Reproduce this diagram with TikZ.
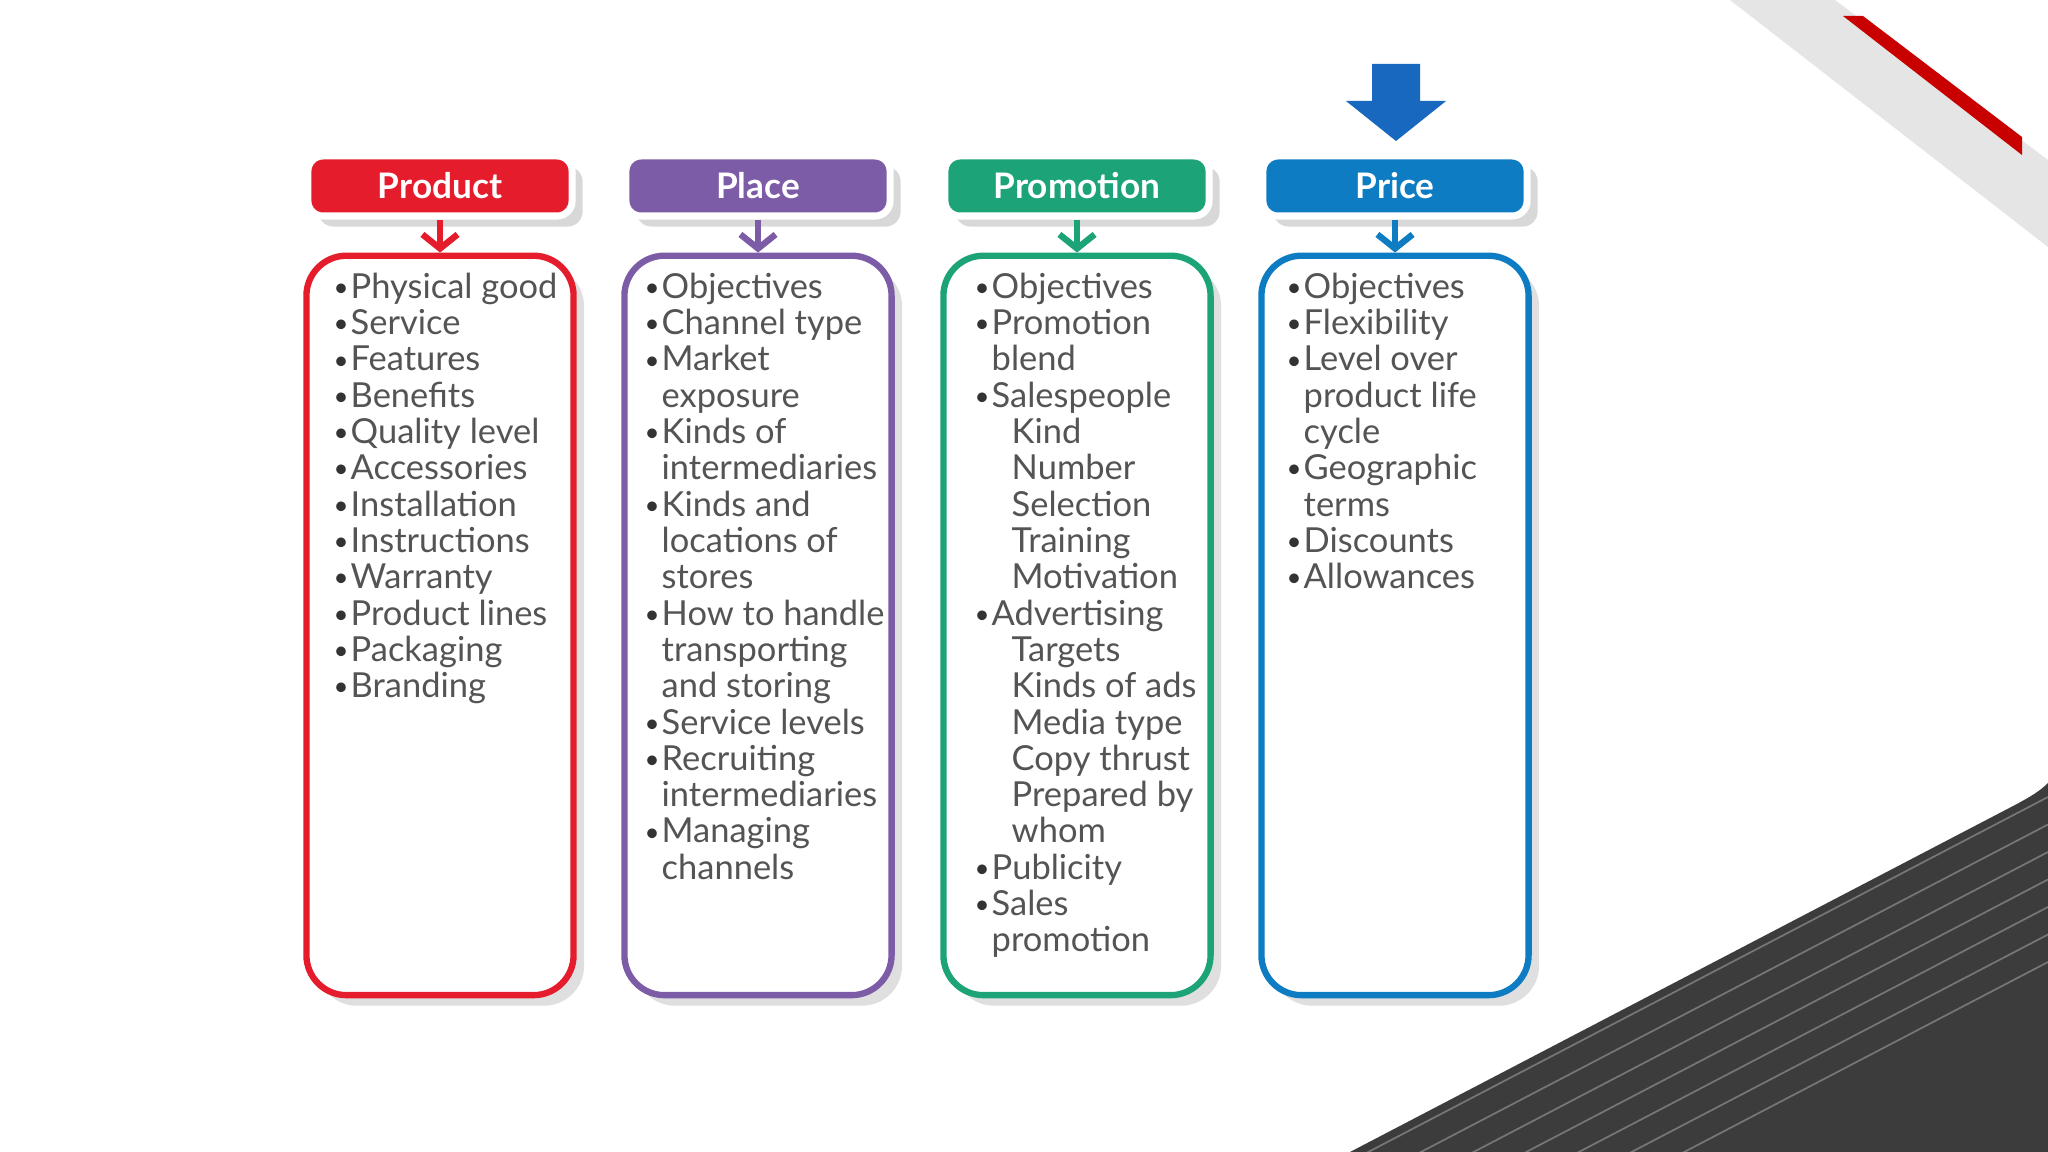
\documentclass[tikz,border=0pt]{standalone}
\usepackage{fontspec}
\setmainfont{Lato}
\usepackage{xcolor}
\usetikzlibrary{positioning,shadows,arrows.meta}
\definecolor{prodred}{RGB}{228,28,44}
\definecolor{placepurple}{RGB}{124,92,166}
\definecolor{promogreen}{RGB}{28,164,120}
\definecolor{priceblue}{RGB}{14,124,194}
\definecolor{bigblue}{RGB}{24,104,192}
\definecolor{textgray}{RGB}{84,84,84}
\definecolor{bandgray}{RGB}{229,229,229}
\definecolor{stripered}{RGB}{200,0,0}
\definecolor{darkslab}{RGB}{60,60,60}
\definecolor{slabline}{RGB}{118,118,118}
\newcommand{\itm}{\makebox[0.17cm][l]{\raisebox{0.05em}{\scalebox{0.75}{\textcolor{black!80}{\textbullet}}}}}
\newcommand{\cnt}{\hspace*{0.17cm}}
\newcommand{\subln}{\hspace*{0.37cm}}

\begin{document}
\begin{tikzpicture}[x=0.01cm, y=-0.01cm,
	head/.style = {rounded corners=0.15cm, minimum width=2.64cm, minimum height=0.6cm, draw=white, line width=2pt, text=white, font=\bfseries\fontsize{10}{12}\selectfont, drop shadow={shadow xshift=3pt, shadow yshift=-3pt, opacity=0.3}},
	body/.style = {rounded corners=0.4cm, minimum width=2.67cm, minimum height=7.39cm, line width=1.8pt, fill=white, drop shadow={shadow xshift=3pt, shadow yshift=-3pt, opacity=0.25}},
	list/.style = {anchor=north west, inner sep=0pt, align=left, text=textgray, font=\fontsize{9.8}{10.33}\selectfont},
	link/.style = {line width=1.8pt, -{Straight Barb[length=4pt,width=10pt]}}]
	\useasboundingbox (0,0) rectangle (2048,1152);
	\fill[white] (0,0) rectangle (2048,1152);
	% corner decorations
	\fill[bandgray] (1730,0) -- (1835,0) -- (2048,160) -- (2048,247) -- cycle;
	\fill[stripered] (1843,16) -- (1863,16) -- (2022,137) -- (2022,155) -- cycle;
	\fill[darkslab] (1350,1152) -- (2015,805) .. controls (2030,797) and (2040,791) .. (2048,783) -- (2048,1152) -- cycle;
	\begin{scope}
		\clip (1350,1152) -- (2015,805) .. controls (2030,797) and (2040,791) .. (2048,783) -- (2048,1152) -- cycle;
		\foreach \k in {0,...,6}
			\draw[slabline, line width=0.5pt] (2048,797+27.5*\k) -- ++(-720,376);
	\end{scope}
	% big arrow
	\fill[bigblue] (1372,64) -- (1420,64) -- (1420,101) -- (1446,101) -- (1396,141) -- (1346,101) -- (1372,101) -- cycle;
	% headers
	\node[head, fill=prodred] (prodhead) at (440,186) {Product};
	\node[head, fill=placepurple] (placehead) at (758,186) {Place};
	\node[head, fill=promogreen] (promohead) at (1077,186) {Promotion};
	\node[head, fill=priceblue] (pricehead) at (1395,186) {Price};
	% boxes
	\node[body, draw=prodred, below=0.33cm of prodhead] (prodbody) {};
	\node[body, draw=placepurple, below=0.33cm of placehead] (placebody) {};
	\node[body, draw=promogreen, below=0.33cm of promohead] (promobody) {};
	\node[body, draw=priceblue, below=0.33cm of pricehead] (pricebody) {};
	\draw[link, prodred] (prodhead.south) -- (prodbody.north);
	\draw[link, placepurple] (placehead.south) -- (placebody.north);
	\draw[link, promogreen] (promohead.south) -- (promobody.north);
	\draw[link, priceblue] (pricehead.south) -- (pricebody.north);
	% lists
	\node[list] (prodlist) at (333,272) {\itm Physical good\\ \itm Service\\ \itm Features\\ \itm Benefits\\ \itm Quality level\\ \itm Accessories\\ \itm Installation\\ \itm Instructions\\ \itm Warranty\\ \itm Product lines\\ \itm Packaging\\ \itm Branding};
	\node[list] (placelist) at (644,272) {\itm Objectives\\ \itm Channel type\\ \itm Market\\ \cnt exposure\\ \itm Kinds of\\ \cnt intermediaries\\ \itm Kinds and\\ \cnt locations of\\ \cnt stores\\ \itm How to handle\\ \cnt transporting\\ \cnt and storing\\ \itm Service levels\\ \itm Recruiting\\ \cnt intermediaries\\ \itm Managing\\ \cnt channels};
	\node[list] (promolist) at (974,272) {\itm Objectives\\ \itm Promotion\\ \cnt blend\\ \itm Salespeople\\ \subln Kind\\ \subln Number\\ \subln Selection\\ \subln Training\\ \subln Motivation\\ \itm Advertising\\ \subln Targets\\ \subln Kinds of ads\\ \subln Media type\\ \subln Copy thrust\\ \subln Prepared by\\ \subln whom\\ \itm Publicity\\ \itm Sales\\ \cnt promotion};
	\node[list] (pricelist) at (1286,272) {\itm Objectives\\ \itm Flexibility\\ \itm Level over\\ \cnt product life\\ \cnt cycle\\ \itm Geographic\\ \cnt terms\\ \itm Discounts\\ \itm Allowances};
\end{tikzpicture}
\end{document}
